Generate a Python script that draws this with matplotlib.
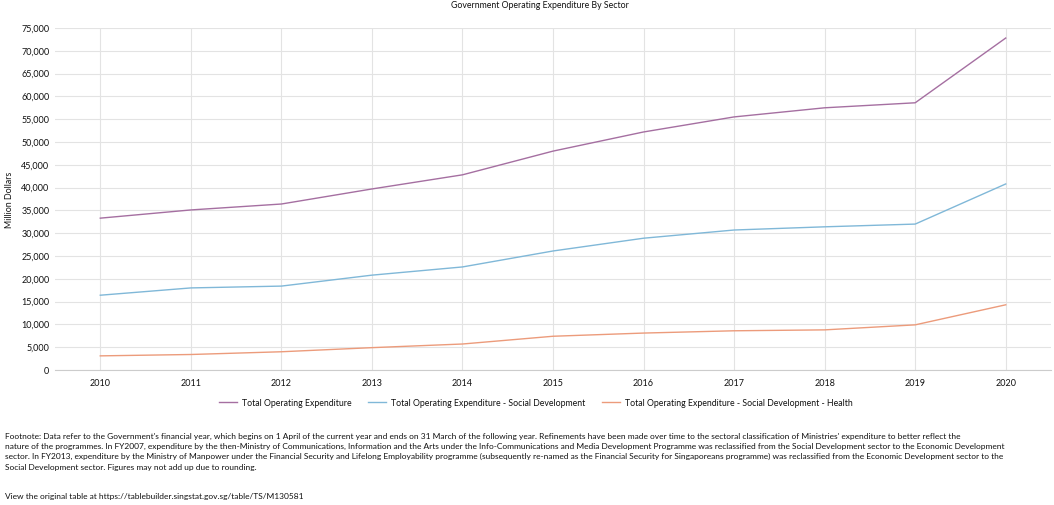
import matplotlib
matplotlib.use("Agg")
import matplotlib.pyplot as plt
from matplotlib.ticker import FuncFormatter, MultipleLocator

plt.rcParams['font.family'] = ['Lato', 'DejaVu Sans']

years = [2010, 2011, 2012, 2013, 2014, 2015, 2016, 2017, 2018, 2019, 2020]
total = [33300, 35100, 36400, 39700, 42800, 48000, 52200, 55500, 57500, 58600, 72800]
social = [16400, 18000, 18400, 20800, 22600, 26100, 28900, 30700, 31400, 32000, 40800]
health = [3100, 3400, 4000, 4900, 5700, 7400, 8100, 8600, 8800, 9900, 14300]
series_names = ["Total Operating Expenditure",
                "Total Operating Expenditure - Social Development",
                "Total Operating Expenditure - Social Development - Health"]
colors = ["#a56fa1", "#80b8d8", "#ec9b7b"]

title = "Government Operating Expenditure By Sector"
ylabel = "Million Dollars"
footnote_lines = [
    "Footnote: Data refer to the Government's financial year, which begins on 1 April of the current year and ends on 31 March of the following year. Refinements have been made over time to the sectoral classification of Ministries' expenditure to better reflect the",
    "nature of the programmes. In FY2007, expenditure by the then-Ministry of Communications, Information and the Arts under the Info-Communications and Media Development Programme was reclassified from the Social Development sector to the Economic Development",
    "sector. In FY2013, expenditure by the Ministry of Manpower under the Financial Security and Lifelong Employability programme (subsequently re-named as the Financial Security for Singaporeans programme) was reclassified from the Economic Development sector to the",
    "Social Development sector. Figures may not add up due to rounding.",
]
source = "View the original table at https://tablebuilder.singstat.gov.sg/table/TS/M130581"

FS = 6.3
W, H = 1054, 505
fig = plt.figure(figsize=(W / 100, H / 100), dpi=100)
ax = fig.add_axes([55 / W, (H - 370) / H, (1051 - 55) / W, (370 - 28) / H])

for vals, name, c in zip([total, social, health], series_names, colors):
    ax.plot(years, vals, color=c, lw=1.0, label=name)

ax.set_xlim(2009.5, 2020.5)
ax.set_ylim(0, 75000)
ax.set_xticks(years)
ax.yaxis.set_major_locator(MultipleLocator(5000))
ax.yaxis.set_major_formatter(FuncFormatter(lambda v, p: f"{int(v):,}"))
ax.grid(True, color="#e3e3e3", lw=0.8)
ax.set_axisbelow(True)
for s in ["top", "right", "left"]:
    ax.spines[s].set_visible(False)
ax.spines["bottom"].set_color("#cccccc")
ax.spines["bottom"].set_linewidth(0.8)
ax.tick_params(axis="both", length=0, labelsize=FS + 0.2)
ax.tick_params(axis="x", pad=6.5)
ax.tick_params(axis="y", pad=4)
for lbl in ax.get_xticklabels() + ax.get_yticklabels():
    lbl.set_color("#111111")

fig.text(5 / W, 1 - 200 / H, ylabel, rotation=90, ha="left", va="center", fontsize=FS + 0.1, color="#111111")
fig.text(540 / W, 1 - 5 / H, title, ha="center", va="center", fontsize=FS, color="#111111")

leg = fig.legend(loc="center", bbox_to_anchor=(536 / W, 1 - 403 / H), ncol=3, frameon=False,
                 fontsize=FS, handlelength=2.0, columnspacing=1.9, handletextpad=0.6)
for t in leg.get_texts():
    t.set_color("#111111")

y0 = 436
for i, line in enumerate(footnote_lines):
    fig.text(5 / W, 1 - (y0 + i * 10.4) / H, line, ha="left", va="center", fontsize=6.05, color="#111111")
fig.text(5 / W, 1 - 497 / H, source, ha="left", va="center", fontsize=6.05, color="#111111")

fig.savefig("out.png", dpi=100)
